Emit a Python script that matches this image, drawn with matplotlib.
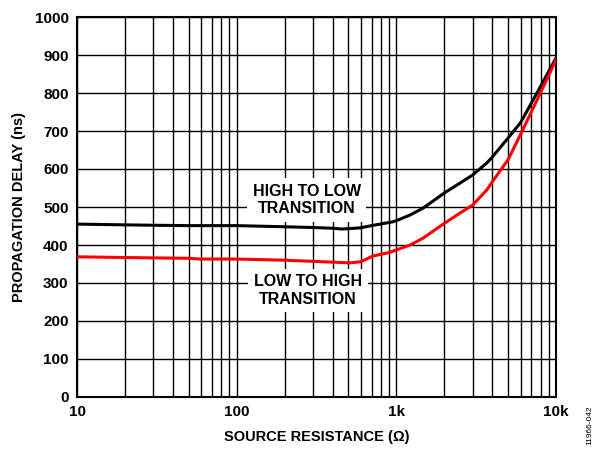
import matplotlib.pyplot as plt
from matplotlib.ticker import FixedLocator, NullFormatter

plt.rcParams['font.family'] = ['Liberation Sans', 'DejaVu Sans']
plt.rcParams['font.weight'] = 'bold'

# source resistance (ohm) and propagation delay (ns)
res_hl = [10, 20, 30, 50, 100, 200, 300, 400, 460, 590, 700, 950, 1000, 1220, 1470,
          2000, 2400, 3000, 3690, 4000, 5000, 6000, 7600, 10000]
delay_hl = [455, 453, 452, 451, 451, 448, 446, 444, 442, 445, 451, 461, 464, 479, 497,
            537, 558, 584, 616, 632, 681, 722, 800, 892]
res_lh = [10, 20, 50, 59, 100, 200, 300, 513, 600, 713, 900, 1000, 1220, 1470, 2000,
          2400, 3000, 3690, 4000, 5000, 5700, 7600, 10000]
delay_lh = [369, 367, 365, 363, 363, 360, 357, 353, 356, 371, 380, 387, 400, 418, 457,
            479, 505, 545, 567, 624, 672, 781, 887]

fig = plt.figure(figsize=(6, 4.54), dpi=100)
ax = fig.add_axes([77 / 600, 57 / 454, 479 / 600, 380 / 454])

ax.plot(res_hl, delay_hl, color='black', lw=2.2, zorder=3)
ax.plot(res_lh, delay_lh, color='#ff0000', lw=2.2, zorder=3)

ax.set_xscale('log')
ax.set_xlim(10, 10000)
ax.set_ylim(0, 1000)
ax.set_yticks(range(0, 1001, 100))
ax.set_xticks([10, 100, 1000, 10000])
ax.set_xticklabels(['10', '100', '1k', '10k'])
ax.xaxis.set_minor_locator(FixedLocator([m * d for d in (10, 100, 1000) for m in range(2, 10)]))
ax.xaxis.set_minor_formatter(NullFormatter())
ax.grid(True, which='both', color='black', lw=1.0)
ax.tick_params(which='both', length=0, labelsize=11, pad=6)
for s in ax.spines.values():
    s.set_linewidth(1.5)

ax.set_xlabel('SOURCE RESISTANCE (Ω)', fontsize=10.5, fontweight='bold', labelpad=8)
ax.set_ylabel('PROPAGATION DELAY (ns)', fontsize=10.5, fontweight='bold', labelpad=6)

box = dict(facecolor='white', edgecolor='none', pad=4)
ax.text(275, 518, 'HIGH TO LOW\nTRANSITION', ha='center', va='center', fontsize=11.5,
        fontweight='bold', linespacing=1.2, bbox=box, zorder=4)
ax.text(280, 280, 'LOW TO HIGH\nTRANSITION', ha='center', va='center', fontsize=11.5,
        fontweight='bold', linespacing=1.2, bbox=box, zorder=4)

fig.text(590 / 600, 1 - 425 / 454, '11966-042', rotation=90, fontsize=6, fontweight='normal',
         ha='center', va='center')

fig.savefig('out.png', dpi=100)
